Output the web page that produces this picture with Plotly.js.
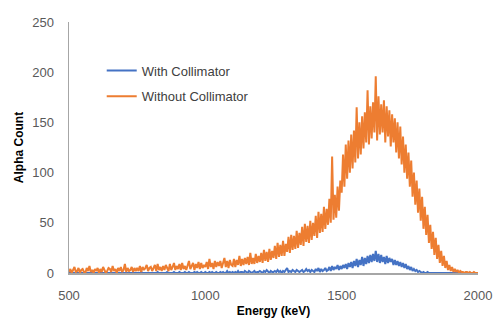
<!DOCTYPE html>
<html>
<head>
<meta charset="utf-8">
<script src="https://cdn.plot.ly/plotly-3.0.1.min.js"></script>
<style>html,body{margin:0;padding:0;background:#fff;}#chart{width:493px;height:320px;}</style>
</head>
<body>
<div id="chart"></div>
<script>
// Energy bins: first bin energy and bin width (keV)
const energyStart = 500;
const energyStep = 5;

// "With Collimator" counts per bin (500 ... 2000 keV)
const withCollimator = [
  0,0,0,0,0,0,0,0,0,0,
  0,0,0,0,0,0,0,0,0,0,
  0,0,0,0,0,0,0,0,0,0,
  0,0,0,0,0,0,0,0,0,0,
  0,0,0,0,0,0,0,0,0,0,
  0,0,0,1,0,0,0,0,0,0,
  0,0,0,0,0,1,0,0,0,0,
  0,0,1,0,0,0,0,1,0,0,
  0,1,0,0,0,1,0,0,1,0,
  0,0,1,0,1,0,0,1,0,0,
  1,0,0,1,0,1,0,0,1,0,
  0,1,0,1,0,0,2,0,1,0,
  1,0,1,0,2,0,1,1,0,2,
  1,0,2,1,0,1,2,0,1,1,
  2,1,0,2,1,3,1,0,2,1,
  1,2,1,3,1,2,0,2,1,3,
  5,1,2,1,3,2,1,3,2,1,
  2,3,1,2,4,2,3,1,3,2,
  1,4,2,5,1,4,2,3,5,2,
  3,6,2,7,3,6,4,8,3,7,
  4,8,5,9,4,10,6,11,5,12,
  7,14,6,13,8,16,7,15,9,17,
  10,18,11,19,12,22,11,19,10,18,
  11,16,9,17,10,15,11,14,8,13,
  8,12,7,11,6,10,5,9,4,7,
  3,6,2,4,2,3,1,2,1,0,
  1,0,0,1,0,0,0,0,0,0,
  0,0,0,0,0,0,0,0,0,0,
  0,0,0,0,0,0,0,0,0,0,
  0,0,0,0,0,0,0,0,0,0,
  0
];

// "Without Collimator" counts per bin (500 ... 2000 keV)
const withoutCollimator = [
  1,4,0,3,6,1,2,5,0,3,
  4,1,0,5,2,7,1,3,0,4,
  2,5,0,4,1,6,3,0,2,5,
  4,1,7,2,4,0,5,2,6,1,
  3,9,1,5,2,3,6,1,5,2,
  5,2,7,1,6,3,5,8,2,5,
  6,2,5,8,2,9,3,6,2,7,
  3,8,5,2,9,3,6,10,3,7,
  4,9,3,10,4,7,3,9,12,4,
  7,10,3,9,5,11,4,10,5,8,
  6,11,4,14,6,10,4,12,6,11,
  7,12,5,10,15,6,12,5,13,8,
  7,14,6,13,8,17,7,14,8,15,
  9,16,8,20,9,15,9,19,10,17,
  11,20,10,23,12,21,11,24,13,22,
  15,27,14,30,16,28,17,32,17,29,
  21,36,20,38,23,37,24,42,25,40,
  28,46,27,49,31,47,30,52,33,50,
  37,57,35,61,40,59,41,66,44,64,
  48,74,50,116,53,78,55,86,62,92,
  80,118,86,128,94,132,100,138,104,142,
  110,165,114,150,118,156,124,160,130,182,
  128,166,134,170,140,196,132,176,138,168,
  140,172,130,166,136,162,126,158,130,154,
  120,150,114,146,108,136,100,128,94,120,
  86,112,76,100,68,92,60,84,52,76,
  44,66,38,58,30,48,24,41,18,35,
  14,28,10,22,7,17,5,12,3,8,
  2,6,1,4,1,3,0,2,1,1,
  0,1,1,0,1,0,0,1,0,0,
  0
];

const xTickVals = [500, 1000, 1500, 2000];
const yTickVals = [0, 50, 100, 150, 200, 250];
const seriesNames = ["With Collimator", "Without Collimator"];

const energies = withoutCollimator.map((_, i) => energyStart + i * energyStep);

const traces = [
  {x: energies, y: withCollimator, name: seriesNames[0], type: "scatter", mode: "lines",
   line: {color: "#4472C4", width: 2}, legendgroup: "a"},
  {x: energies, y: withoutCollimator, name: seriesNames[1], type: "scatter", mode: "lines",
   line: {color: "#ED7D31", width: 2}, legendgroup: "b"}
];

const tickFont = {family: "Liberation Sans, Arial, sans-serif", size: 13, color: "#595959"};
const titleFont = {family: "Liberation Sans, Arial, sans-serif", size: 12, color: "#000", weight: "bold"};

const layout = {
  width: 493, height: 320,
  margin: {l: 69, r: 15, t: 22, b: 47},
  paper_bgcolor: "#fff", plot_bgcolor: "#fff",
  showlegend: true,
  legend: {x: 0.08, y: 0.755, xanchor: "left", yanchor: "middle",
           font: {family: "Liberation Sans, Arial, sans-serif", size: 13, color: "#404040"},
           bgcolor: "rgba(0,0,0,0)", traceorder: "grouped", tracegroupgap: 6},
  xaxis: {range: [500, 2000], tickvals: xTickVals, showgrid: false, zeroline: false,
          showline: true, linecolor: "#A6A6A6", linewidth: 1.5,
          ticks: "outside", ticklen: 10, tickcolor: "rgba(0,0,0,0)",
          tickfont: tickFont,
          title: {text: "Energy (keV)", font: titleFont, standoff: 4}},
  yaxis: {range: [0, 250], tickvals: yTickVals, showgrid: false, zeroline: false,
          showline: true, linecolor: "#A6A6A6", linewidth: 1.5,
          ticks: "outside", ticklen: 11, tickcolor: "rgba(0,0,0,0)",
          tickfont: tickFont,
          title: {text: "Alpha Count", font: titleFont, standoff: 6}}
};

Plotly.newPlot("chart", traces, layout, {displayModeBar: false, staticPlot: true});
</script>
</body>
</html>
